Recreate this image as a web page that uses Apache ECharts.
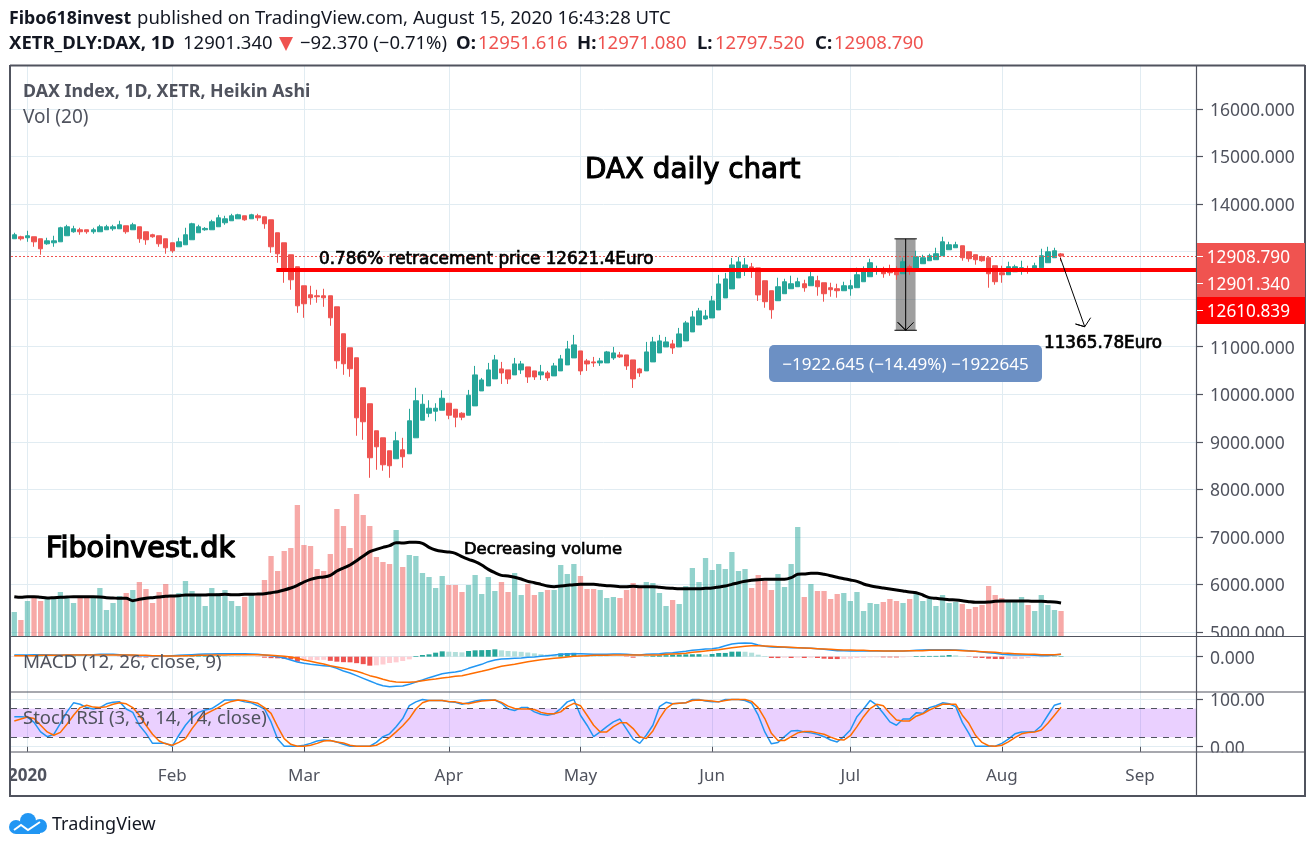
<!DOCTYPE html>
<html>
<head>
<meta charset="utf-8">
<title>DAX daily chart</title>
<script src="https://cdn.jsdelivr.net/npm/echarts@6/dist/echarts.min.js"></script>
<style>
  html, body { margin: 0; padding: 0; background: #fff; }
  #chart { width: 1315px; height: 851px; }
</style>
</head>
<body>
<div id="chart"></div>
<script>
// trading days, the last ones are empty room on the right of the chart
const days = [
  '12-27','12-30',
  '01-02','01-03','01-06','01-07','01-08','01-09','01-10','01-13','01-14','01-15','01-16','01-17','01-20','01-21','01-22','01-23','01-24','01-27','01-28','01-29','01-30','01-31',
  '02-03','02-04','02-05','02-06','02-07','02-10','02-11','02-12','02-13','02-14','02-17','02-18','02-19','02-20','02-21','02-24','02-25','02-26','02-27','02-28',
  '03-02','03-03','03-04','03-05','03-06','03-09','03-10','03-11','03-12','03-13','03-16','03-17','03-18','03-19','03-20','03-23','03-24','03-25','03-26','03-27','03-30','03-31',
  '04-01','04-02','04-03','04-06','04-07','04-08','04-09','04-14','04-15','04-16','04-17','04-20','04-21','04-22','04-23','04-24','04-27','04-28','04-29','04-30',
  '05-04','05-05','05-06','05-07','05-08','05-11','05-12','05-13','05-14','05-15','05-18','05-19','05-20','05-21','05-22','05-25','05-26','05-27','05-28','05-29',
  '06-02','06-03','06-04','06-05','06-08','06-09','06-10','06-11','06-12','06-15','06-16','06-17','06-18','06-19','06-22','06-23','06-24','06-25','06-26','06-29','06-30',
  '07-01','07-02','07-03','07-06','07-07','07-08','07-09','07-10','07-13','07-14','07-15','07-16','07-17','07-20','07-21','07-22','07-23','07-24','07-27','07-28','07-29','07-30','07-31',
  '08-03','08-04','08-05','08-06','08-07','08-10','08-11','08-12','08-13','08-14',
  '08-17','08-18','08-19','08-20','08-21','08-24','08-25','08-26','08-27','08-28','08-31',
  '09-01','09-02','09-03','09-04','09-07','09-08','09-09','09-10','09-11'
];
const monthDays = ['01-02','02-03','03-02','04-01','05-04','06-02','07-01','08-03','09-01'];
const monthLabels = ['2020','Feb','Mar','Apr','May','Jun','Jul','Aug','Sep'];

const priceTicks = [5000,6000,7000,8000,9000,10000,11000,12000,13000,14000,15000,16000];

// [open, close, low, high] heikin ashi
const ohlc = [
  [13270,13354,13270,13396],[13312,13270,13234,13333],[13291,13333,13206,13438],[13312,13206,13101,13312],[13270,13059,12933,13270],
  [13164,13227,13143,13291],[13185,13227,13101,13333],[13206,13501,13206,13522],[13333,13522,13333,13564],[13417,13480,13396,13543],
  [13459,13417,13354,13501],[13459,13417,13375,13459],[13417,13459,13375,13501],[13417,13522,13417,13564],[13459,13522,13459,13564],
  [13480,13522,13438,13564],[13480,13564,13480,13648],[13543,13417,13375,13543],[13459,13564,13459,13606],[13522,13270,13185,13522],
  [13417,13249,13143,13417],[13354,13312,13291,13375],[13333,13164,13101,13333],[13270,13080,12954,13270],[13185,13017,12975,13185],
  [13101,13206,13101,13291],[13143,13354,13143,13501],[13249,13585,13249,13606],[13396,13522,13396,13564],[13459,13487,13438,13515],
  [13459,13627,13459,13669],[13522,13711,13522,13774],[13606,13690,13564,13753],[13648,13753,13648,13795],[13690,13774,13690,13795],
  [13753,13669,13648,13753],[13690,13774,13690,13795],[13753,13711,13648,13795],[13732,13585,13480,13732],[13669,13101,12975,13669],
  [13396,12954,12765,13396],[13185,12618,12344,13185],[12933,12407,12197,12933],[12681,11860,11713,12681],[12281,11903,11608,12281],
  [12092,12029,11882,12281],[12071,12050,11924,12197],[12071,12029,11839,12218],[12071,11608,11440,12071],[11839,10704,10536,11839],
  [11272,10641,10409,11272],[10977,10536,10367,10977],[10767,9505,9127,10767],[10136,9421,9042,10136],[9800,8664,8243,9800],
  [9232,8895,8412,9232],[9084,8517,8391,9084],[8811,8496,8243,8811],[8643,9021,8643,9211],[8832,8685,8454,9084],
  [8748,9442,8748,9694],[9084,9863,9084,10136],[9454,9790,9454,10000],[9601,9706,9517,9874],[9643,9706,9432,9811],
  [9664,9916,9664,10084],[9811,9559,9475,9811],[9685,9517,9306,9685],[9601,9517,9454,9622],[9559,9979,9559,10091],
  [9755,10407,9755,10596],[10070,10301,10070,10343],[10175,10512,10175,10659],[10323,10722,10323,10827],[10533,10449,10217,10680],
  [10512,10323,10217,10512],[10407,10638,10407,10764],[10512,10638,10428,10701],[10575,10365,10238,10575],[10491,10365,10301,10491],
  [10407,10470,10301,10617],[10449,10344,10280,10491],[10386,10596,10386,10659],[10491,10743,10491,10827],[10617,10953,10617,11122],
  [10764,11038,10764,11248],[10911,10491,10407,10911],[10701,10638,10491,10743],[10680,10659,10575,10785],[10659,10701,10596,10764],
  [10659,10890,10659,10911],[10764,10869,10722,10995],[10827,10785,10764,10890],[10827,10596,10512,10827],[10722,10323,10133,10722],
  [10533,10449,10365,10554],[10491,10890,10491,11101],[10680,11101,10680,11206],[10869,11122,10869,11248],[10995,11101,10995,11206],
  [11059,10974,10848,11143],[10995,11269,10995,11395],[11122,11500,11122,11542],[11311,11626,11311,11753],[11458,11753,11458,11816],
  [11584,11647,11563,11774],[11605,11963,11605,12068],[11774,12320,11774,12510],[12026,12425,12026,12552],[12215,12720,12215,12867],
  [12447,12783,12447,12888],[12615,12720,12489,12867],[12678,12594,12447,12762],[12657,12089,11963,12657],[12387,11946,11819,12387],
  [12177,11777,11588,12177],[11967,12261,11967,12450],[12114,12366,12114,12429],[12219,12324,12219,12492],[12261,12366,12261,12450],
  [12324,12240,12156,12408],[12282,12471,12282,12618],[12387,12261,12072,12492],[12345,12114,11946,12345],[12240,12198,12051,12345],
  [12219,12177,12030,12324],[12177,12282,12177,12366],[12219,12282,12072,12408],[12240,12513,12240,12661],[12366,12576,12366,12689],
  [12471,12766,12471,12850],[12618,12640,12513,12703],[12618,12534,12450,12682],[12597,12555,12492,12724],[12576,12513,12408,12689],
  [12534,12787,12534,12871],[12682,12640,12513,12724],[12640,12892,12640,13018],[12745,12871,12745,12934],[12808,12913,12808,12955],
  [12829,12955,12829,13081],[12913,13207,12913,13312],[13039,13144,13039,13207],[13081,13144,13081,13207],[13123,12871,12808,13123],
  [12997,12850,12787,12997],[12934,12829,12724,12934],[12892,12808,12787,12913],[12871,12534,12240,12871],[12703,12366,12303,12703],
  [12555,12513,12345,12703],[12513,12682,12513,12787],[12576,12682,12576,12724],[12618,12661,12513,12808],[12640,12618,12534,12703],
  [12618,12703,12618,12766],[12661,12913,12661,13060],[12766,12997,12766,13102],[12871,13018,12871,13081],[12951.6,12908.8,12797.5,12971.1]
];

// volume, no scale on the picture so these are relative units
const volume = [
  72,48,105,114,105,111,111,132,114,99,114,114,120,144,78,99,120,129,138,162,
  141,99,132,156,120,129,165,135,120,90,144,129,138,105,90,117,123,123,168,240,
  195,255,264,393,273,270,201,195,246,381,330,264,426,363,330,237,222,216,318,207,
  243,240,189,177,144,180,153,153,132,153,183,126,177,135,162,132,189,123,156,123,
  132,138,138,213,186,216,180,141,141,138,114,117,114,138,159,144,162,159,129,90,
  108,96,150,204,162,234,198,216,201,252,195,201,144,183,165,138,186,147,216,327,
  117,156,135,135,111,126,129,105,132,75,99,96,102,111,105,99,111,129,105,111,
  90,123,99,102,96,81,87,93,150,123,114,102,102,117,93,75,123,93,78,75
];
const volumeMa = [
  118,116,118,118,116,114,115,116,117,118,118,118,118,117,115,114,113,113,106,110,
  113,115,117,119,120,121,123,123,123,123,124,124,125,124,124,125,125,126,127,130,
  133,138,144,152,162,170,175,177,182,195,204,213,226,240,253,260,266,271,280,279,
  281,281,278,266,258,254,252,248,238,230,223,213,200,190,182,180,176,171,164,160,
  155,150,148,150,152,154,155,155,155,153,151,150,148,148,149,148,148,148,146,144,
  143,142,142,142,142,143,144,147,150,155,160,164,167,169,170,170,170,170,175,185,
  186,188,188,185,181,176,172,168,164,156,151,147,144,141,138,135,132,130,123,115,
  113,111,109,108,106,103,101,101,102,104,105,105,105,105,105,104,104,103,102,99
];

const macdLine = [
  50,50,50,60,60,60,50,50,50,50,50,60,60,70,70,70,60,50,40,30,
  30,20,20,20,30,40,50,60,70,80,80,90,90,90,90,90,80,70,
  50,30,0,-40,-100,-160,-200,-230,-250,-270,-290,-350,
  -430,-490,-570,-650,-730,-810,-870,-900,-890,-880,
  -830,-760,-700,-630,-570,-510,-480,-460,-420,-350,
  -290,-230,-150,-100,-70,-60,-50,-40,-20,-10,
  10,30,50,70,80,90,90,80,70,
  70,70,80,80,70,60,50,70,80,90,110,
  120,140,160,190,210,230,240,270,330,380,
  400,410,400,350,310,290,280,280,270,270,
  260,250,240,220,200,180,180,170,170,170,
  170,170,170,170,170,170,180,190,200,210,
  210,210,210,200,190,180,160,140,120,100,
  70,60,50,50,50,40,30,30,50,70
];
const signalLine = [
  30,30,30,30,40,40,40,40,50,50,50,50,50,50,50,50,50,50,50,40,
  40,30,30,20,20,20,30,30,40,40,50,50,50,60,60,60,60,60,
  50,40,30,10,-10,-50,-100,-140,-180,-220,-270,-310,
  -350,-390,-440,-500,-570,-620,-680,-730,-760,-770,
  -770,-750,-720,-690,-670,-640,-620,-590,-570,-530,
  -480,-440,-390,-340,-290,-260,-230,-190,-150,-120,
  -90,-70,-50,-30,-10,10,20,30,40,
  40,40,50,50,50,50,50,50,50,50,70,
  80,90,100,130,150,170,190,210,240,270,
  290,310,330,330,320,310,300,290,280,270,
  260,250,240,230,220,210,200,200,190,190,
  180,180,170,170,170,170,180,180,180,190,
  190,190,190,190,180,170,160,150,140,130,
  110,100,90,80,70,70,60,60,60,70
];
const macdHist = [
  -10,-10,-5,5,10,8,6,5,10,12,8,6,5,4,2,0,-5,-10,-15,-20,
  -25,-25,-20,-15,-10,-5,10,14,16,18,20,22,20,18,15,10,5,-5,
  -30,-45,-50,-65,-80,-150,-110,-105,-100,-95,
  -125,-150,-165,-170,-195,-225,-270,-260,-235,-190,-170,-130,-80,
  20,50,70,120,160,150,140,130,170,190,
  195,200,220,190,170,160,145,125,100,75,
  60,50,100,110,115,55,30,
  20,15,10,5,3,-10,-30,-10,10,30,
  40,45,60,65,70,72,75,60,80,110,
  112,150,152,148,120,60,20,-40,-42,-30,
  -40,-30,-40,-30,-40,-60,-70,-72,-65,-60,
  -40,-30,-20,-19,-21,-22,-23,-20,-10,20,
  21,22,23,30,50,40,10,-10,-30,-40,
  -60,-70,-72,-70,-68,-66,-40,-20,-18,-10,
  10,15
];

const stochK = [
  63,63,62,51,31,21,26,49,73,92,89,82,79,82,90,93,94,79,72,45,
  28,7,7,7,1,24,45,61,72,77,80,89,98,98,98,94,92,86,79,52,
  16,1,1,1,3,7,12,14,13,10,5,1,1,1,1,9,21,27,42,59,
  86,94,99,97,97,97,94,93,89,92,96,98,98,98,91,79,76,82,82,73,
  68,66,69,80,94,99,66,45,21,31,42,52,58,37,16,7,24,45,84,93,
  90,91,92,99,99,96,94,94,99,99,99,97,91,66,31,6,9,21,33,34,
  31,29,26,21,14,10,21,35,63,79,97,87,70,52,45,58,58,71,70,82,
  86,92,90,84,51,28,1,1,1,1,7,16,27,31,31,32,44,66,87,91
];
const stochD = [
  54,58,62,59,45,31,24,30,47,66,82,87,83,82,84,89,92,90,82,66,
  45,26,12,6,3,9,17,38,56,68,75,82,90,95,98,97,94,91,82,70,
  42,17,5,1,1,3,7,12,13,10,8,3,1,1,1,3,10,19,31,44,
  59,79,92,97,97,97,95,94,91,90,93,96,97,98,93,85,80,79,79,78,
  72,69,69,73,84,91,86,66,45,31,31,42,50,50,38,21,17,33,59,80,
  90,91,92,97,98,97,96,94,97,99,99,99,95,82,59,28,13,13,21,29,
  32,32,29,26,20,15,14,23,42,63,80,89,86,70,56,54,54,64,69,77,
  83,89,89,89,66,49,24,9,2,1,3,10,19,27,30,31,35,49,66,83
];

// drawings on the chart, x counted in bars
const lastPrice = 12908.79;
const closePrice = 12901.34;
const retracePrice = 12610.839;
const retraceLine = [[39.8, retracePrice], [179.5, retracePrice]];
const measureTop = 13268;
const measureBottom = 11345.4;
const measureLeft = 133.9;
const measureRight = 136.9;
const measureArrow = [[135.4, 13268], [135.4, 11345.4], [134.2, 11513], [135.4, 11345.4], [136.6, 11513]];
const targetArrow = [[158.9, 12865], [162.6, 11420], [161.2, 11477], [162.6, 11420], [163.5, 11610]];

const textColor = '#50535e';
const gridColor = '#e1ecf2';
const upColor = '#26a69a';
const downColor = '#ef5350';
const sans = '"Noto Sans", sans-serif';
const boxy = '"DejaVu Sans", sans-serif';

const isMonthStart = (i, value) => monthDays.includes(value);

function timeAxis(gridIndex, withLabels) {
  return {
    type: 'category',
    gridIndex: gridIndex,
    data: days,
    boundaryGap: true,
    axisLine: { show: false },
    axisTick: { show: withLabels, interval: isMonthStart, alignWithLabel: true, length: 5, lineStyle: { color: textColor } },
    axisLabel: {
      show: withLabels,
      interval: isMonthStart,
      margin: 16,
      fontFamily: sans,
      fontSize: 17,
      color: textColor,
      formatter: v => {
        const label = monthLabels[monthDays.indexOf(v)];
        return label === '2020' ? '{year|2020}' : label;
      },
      rich: { year: { fontFamily: sans, fontSize: 17, fontWeight: 'bold', color: textColor } }
    },
    splitLine: { show: true, interval: isMonthStart, alignWithLabel: true, lineStyle: { color: gridColor, width: 1 } }
  };
}

function priceAxis(gridIndex, min, max, ticks, digits) {
  return {
    type: 'value',
    gridIndex: gridIndex,
    position: 'right',
    min: min,
    max: max,
    axisLine: { show: true, onZero: false, lineStyle: { color: textColor } },
    axisTick: { show: true, customValues: ticks, length: 7, lineStyle: { color: textColor, width: 1.2 } },
    axisLabel: {
      customValues: ticks,
      margin: 14,
      color: textColor,
      // the extra room above the text pushes it down to where the reference has it
      formatter: v => '{p|' + v.toFixed(digits) + '}',
      rich: { p: { fontFamily: sans, fontSize: 17.5, color: textColor, padding: [4, 0, 0, 0] } }
    },
    splitLine: { show: true, lineStyle: { color: gridColor } }
  };
}

function drawingLine(data, color, width) {
  return {
    type: 'line',
    xAxisIndex: 3,
    yAxisIndex: 0,
    data: data,
    symbol: 'none',
    silent: true,
    z: 6,
    lineStyle: { color: color, width: width }
  };
}

function text(x, y, str, size, color, weight, family, align, stroke) {
  const style = {
    text: str,
    fill: color,
    font: (weight || 'normal') + ' ' + size + 'px ' + (family || sans),
    textAlign: align || 'left',
    textVerticalAlign: 'middle'
  };
  if (stroke) {
    style.stroke = color;
    style.lineWidth = stroke;
  }
  return { type: 'text', x: x, y: y, z: 120, silent: true, style: style };
}

function box(x, y, w, h, fill, z, r) {
  return {
    type: 'rect',
    z: z,
    silent: true,
    shape: { x: x, y: y, width: w, height: h, r: r || 0 },
    style: { fill: fill }
  };
}

function rule(x1, y1, x2, y2, width, color) {
  return {
    type: 'line',
    z: color ? 118 : 112,
    silent: true,
    shape: { x1: x1, y1: y1, x2: x2, y2: y2 },
    style: { stroke: color || textColor, lineWidth: width }
  };
}

const graphics = [
  // labels of the panes are cut off at the pane border
  box(1204, 637, 100, 8, '#fff', 110),
  box(1204, 685, 100, 6.5, '#fff', 110),
  box(1204, 752.5, 100, 8, '#fff', 110),
  box(0, 757, 9, 35, '#fff', 110),

  rule(10, 65.5, 1305, 65.5, 2), rule(10, 796, 1305, 796, 2),
  rule(10, 65, 10, 797, 2), rule(1305, 65, 1305, 797, 2),
  rule(10, 636.5, 1305, 636.5, 1.2), rule(10, 692, 1305, 692, 1.2), rule(10, 752, 1305, 752, 1.2),
  rule(1196.5, 66, 1196.5, 796, 1.2),

  text(9, 19, 'Fibo618invest', 17.8, '#131722', 'bold'),
  text(137, 19, 'published on TradingView.com, August 15, 2020 16:43:28 UTC', 18.5, '#131722'),
  text(9, 44, 'XETR_DLY:DAX, 1D', 18.5, '#131722', 'bold'),
  text(183, 44, '12901.340', 18.5, '#131722'),
  { type: 'polygon', z: 120, silent: true, shape: { points: [[279, 37], [293, 37], [286, 51]] }, style: { fill: downColor } },
  text(300, 44, '\u221292.370 (\u22120.71%)', 18.5, '#131722'),
  text(456, 44, 'O:', 18.5, '#131722', 'bold'),
  text(478, 44, '12951.616', 18.5, downColor),
  text(577, 44, 'H:', 18.5, '#131722', 'bold'),
  text(597, 44, '12971.080', 18.5, downColor),
  text(697, 44, 'L:', 18.5, '#131722', 'bold'),
  text(715, 44, '12797.520', 18.5, downColor),
  text(815, 44, 'C:', 18.5, '#131722', 'bold'),
  text(834, 44, '12908.790', 18.5, downColor),

  text(23, 92, 'DAX Index, 1D, XETR, Heikin Ashi', 17.8, textColor, 'bold'),
  text(23, 118, 'Vol (20)', 19, textColor),
  text(23, 663, 'MACD (12, 26, close, 9)', 18.8, textColor),
  text(23, 719, 'Stoch RSI (3, 3, 14, 14, close)', 18.5, textColor),

  text(585, 171, 'DAX daily chart', 27.8, '#000', 'normal', boxy, 'left', 1.1),
  text(46, 550, 'Fiboinvest.dk', 28.7, '#000', 'normal', boxy, 'left', 1.4),
  text(464, 550, 'Decreasing volume', 16.4, '#000', 'normal', boxy, 'left', 0.7),
  text(319, 260, '0.786% retracement price 12621.4Euro', 16.85, '#000', 'normal', boxy, 'left', 0.7),
  text(1044, 344, '11365.78Euro', 16.8, '#000', 'normal', boxy, 'left', 0.7),

  box(769, 345, 273, 37, '#6c90c4', 115, 5),
  text(905.5, 365, '\u22121922.645 (\u221214.49%) \u22121922645', 17, '#fff', 'normal', sans, 'center'),

  box(1197, 243, 108, 54, '#f05350', 115),
  box(1197, 297, 108, 27, '#ff0000', 115),
  rule(1197, 256.5, 1203, 256.5, 1, '#fff'),
  rule(1197, 283.5, 1203, 283.5, 1, '#fff'),
  rule(1197, 310.5, 1203, 310.5, 1, '#fff'),
  text(1290, 258, '12908.790', 17.2, '#fff', 'normal', sans, 'right'),
  text(1290, 285, '12901.340', 17.2, '#fff', 'normal', sans, 'right'),
  text(1290, 312, '12610.839', 17.2, '#fff', 'normal', sans, 'right'),

  // logo
  { type: 'circle', z: 120, silent: true, shape: { cx: 16, cy: 827, r: 7 }, style: { fill: '#2196f3' } },
  { type: 'circle', z: 120, silent: true, shape: { cx: 28, cy: 821, r: 8 }, style: { fill: '#2196f3' } },
  { type: 'circle', z: 120, silent: true, shape: { cx: 40, cy: 826, r: 7 }, style: { fill: '#2196f3' } },
  box(16, 826, 24, 8, '#2196f3', 120),
  { type: 'polyline', z: 121, silent: true, shape: { points: [[14, 830], [21, 825], [28, 830], [40, 822]] }, style: { stroke: '#fff', lineWidth: 2, fill: 'none' } },
  text(52, 825, 'TradingView', 18, '#131722')
];

const chart = echarts.init(document.getElementById('chart'));
chart.setOption({
  animation: false,
  backgroundColor: '#fff',
  textStyle: { fontFamily: sans },
  grid: [
    { left: 11, width: 1185, top: 66, height: 570 },
    { left: 11, width: 1185, top: 637, height: 55 },
    { left: 11, width: 1185, top: 692, height: 60 }
  ],
  xAxis: [
    timeAxis(0, false),
    timeAxis(1, false),
    timeAxis(2, true),
    { type: 'value', gridIndex: 0, min: -0.5, max: 179.5, show: false }
  ],
  yAxis: [
    priceAxis(0, 4916, 16903, priceTicks, 3),
    { type: 'value', gridIndex: 0, min: 0, max: 1710, show: false },
    priceAxis(1, -1060, 590, [0], 3),
    priceAxis(2, -11.1, 114.7, [0, 100], 2)
  ],
  series: [
    {
      name: 'Vol',
      type: 'bar',
      xAxisIndex: 0,
      yAxisIndex: 1,
      barWidth: 5.3,
      z: 2,
      data: volume,
      itemStyle: {
        color: p => ohlc[p.dataIndex][1] >= ohlc[p.dataIndex][0] ? 'rgba(38,166,154,0.5)' : 'rgba(239,83,80,0.5)'
      }
    },
    {
      name: 'Vol MA',
      type: 'line',
      xAxisIndex: 0,
      yAxisIndex: 1,
      data: volumeMa,
      symbol: 'none',
      smooth: 0.3,
      z: 3,
      lineStyle: { color: '#000', width: 3 }
    },
    {
      name: 'DAX',
      type: 'candlestick',
      xAxisIndex: 0,
      yAxisIndex: 0,
      barWidth: 5,
      z: 4,
      data: ohlc,
      itemStyle: { color: upColor, color0: downColor, borderColor: upColor, borderColor0: downColor, borderWidth: 1 },
      markLine: {
        silent: true,
        symbol: 'none',
        label: { show: false },
        lineStyle: { color: downColor, width: 1, type: [2, 2] },
        data: [{ yAxis: lastPrice }]
      }
    },
    drawingLine(retraceLine, '#ff0000', 4),
    {
      type: 'line',
      xAxisIndex: 3,
      yAxisIndex: 0,
      data: [],
      silent: true,
      z: 6,
      markArea: {
        silent: true,
        itemStyle: { color: 'rgba(80,80,80,0.55)' },
        data: [[{ coord: [measureLeft, measureTop] }, { coord: [measureRight, measureBottom] }]]
      }
    },
    drawingLine([[measureLeft - 0.2, measureTop], [measureRight + 0.2, measureTop]], '#000', 1),
    drawingLine([[measureLeft - 0.2, measureBottom], [measureRight + 0.2, measureBottom]], '#000', 1),
    drawingLine(measureArrow, '#000', 1),
    drawingLine(targetArrow, '#000', 1),
    {
      name: 'Histogram',
      type: 'bar',
      xAxisIndex: 1,
      yAxisIndex: 2,
      barWidth: 5,
      data: macdHist,
      itemStyle: {
        color: p => {
          const prev = p.dataIndex > 0 ? macdHist[p.dataIndex - 1] : p.value;
          if (p.value >= 0) return p.value >= prev ? '#26a69a' : '#b2dfdb';
          return p.value < prev ? '#ef5350' : '#ffcdd2';
        }
      }
    },
    {
      name: 'MACD',
      type: 'line',
      xAxisIndex: 1,
      yAxisIndex: 2,
      data: macdLine,
      symbol: 'none',
      lineStyle: { color: '#2196f3', width: 1.5 }
    },
    {
      name: 'Signal',
      type: 'line',
      xAxisIndex: 1,
      yAxisIndex: 2,
      data: signalLine,
      symbol: 'none',
      lineStyle: { color: '#ff6d00', width: 1.5 }
    },
    {
      name: '%K',
      type: 'line',
      xAxisIndex: 2,
      yAxisIndex: 3,
      data: stochK,
      symbol: 'none',
      z: 4,
      lineStyle: { color: '#2196f3', width: 1.5 },
      markArea: {
        silent: true,
        itemStyle: { color: 'rgba(149,20,255,0.2)' },
        data: [[{ yAxis: 80 }, { yAxis: 20 }]]
      },
      markLine: {
        silent: true,
        symbol: 'none',
        label: { show: false },
        lineStyle: { color: textColor, width: 1.1, type: [6, 6] },
        data: [{ yAxis: 80 }, { yAxis: 20 }]
      }
    },
    {
      name: '%D',
      type: 'line',
      xAxisIndex: 2,
      yAxisIndex: 3,
      data: stochD,
      symbol: 'none',
      z: 5,
      lineStyle: { color: '#ff6d00', width: 1.5 }
    }
  ],
  graphic: graphics
});
</script>
</body>
</html>
